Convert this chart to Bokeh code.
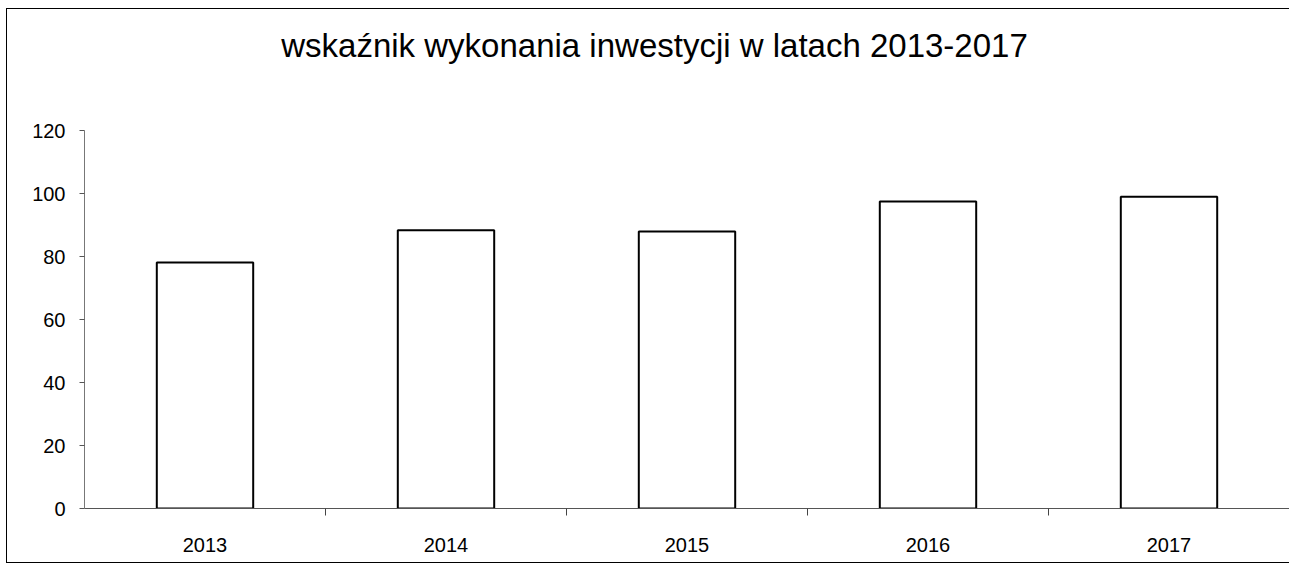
from bokeh.plotting import figure
from bokeh.models import FixedTicker, Range1d, ColumnDataSource, Label
from bokeh.layouts import column
from bokeh.embed import file_html
from bokeh.resources import INLINE

years = ["2013", "2014", "2015", "2016", "2017"]
values = [78.1, 88.3, 87.9, 97.5, 99.0]
y_ticks = [0, 20, 40, 60, 80, 100, 120]
title_text = "wskaźnik wykonania inwestycji w latach 2013-2017"

FONT = "Liberation Sans"
W, H = 1282, 553
LEFT, BOTTOM = 77, 54
YMAX = 120
AXIS_PX = 378            # pixel height of the 0..120 axis
FRAME_H = H - BOTTOM
YTOP = YMAX * FRAME_H / AXIS_PX   # room above the axis for the title

x_pos = [i + 0.5 for i in range(len(years))]
boundaries = [i for i in range(1, len(years))]
src = ColumnDataSource(dict(x=x_pos, top=values, year=years))

p = figure(width=W, height=H, output_backend="svg", toolbar_location=None,
           x_range=Range1d(0, len(years)), y_range=Range1d(0, YTOP),
           min_border_left=LEFT, min_border_right=0, min_border_top=0,
           min_border_bottom=BOTTOM)

p.vbar(x="x", top="top", bottom=0, width=0.40, source=src,
       fill_color="white", line_color="black", line_width=2)

p.grid.visible = False
p.outline_line_color = None
p.background_fill_color = "white"
p.border_fill_color = "white"

# x axis
xa = p.xaxis[0]
xa.ticker = FixedTicker(ticks=x_pos, minor_ticks=boundaries)
xa.major_label_overrides = {x: y for x, y in zip(x_pos, years)}
xa.major_tick_line_color = None
xa.major_tick_out = 0
xa.major_tick_in = 0
xa.minor_tick_line_color = "#444444"
xa.minor_tick_out = 7
xa.minor_tick_in = 0
xa.axis_line_color = "#555555"
xa.axis_line_width = 1.2
xa.major_label_standoff = 22
xa.major_label_text_font = FONT
xa.major_label_text_font_size = "20px"
xa.major_label_text_color = "black"

# y axis
ya = p.yaxis[0]
ya.ticker = FixedTicker(ticks=y_ticks)
ya.bounds = (0, YMAX)
ya.minor_tick_line_color = None
ya.major_tick_out = 5
ya.major_tick_in = 0
ya.major_tick_line_color = "#555555"
ya.axis_line_color = "#777777"
ya.major_label_standoff = 14
ya.major_label_text_font = FONT
ya.major_label_text_font_size = "20px"
ya.major_label_text_color = "black"

# chart title (position given in pixels of the canvas, converted to data units)
title_canvas_x, title_canvas_y = 647, 36
tx = (title_canvas_x - LEFT) * len(years) / (W - LEFT)
ty = YTOP * (FRAME_H - title_canvas_y) / FRAME_H
title = Label(x=tx, y=ty, text=title_text,
              text_font=FONT, text_font_size="33px", text_color="black",
              text_align="center", text_baseline="middle")
p.add_layout(title)

inner = column(p, styles={"border-left": "1.5px solid black",
                          "border-top": "1.5px solid black",
                          "border-bottom": "1.5px solid black"})
layout = column(inner, styles={"padding-left": "6px", "padding-top": "8px"})

open("out.html", "w").write(file_html(layout, INLINE))
